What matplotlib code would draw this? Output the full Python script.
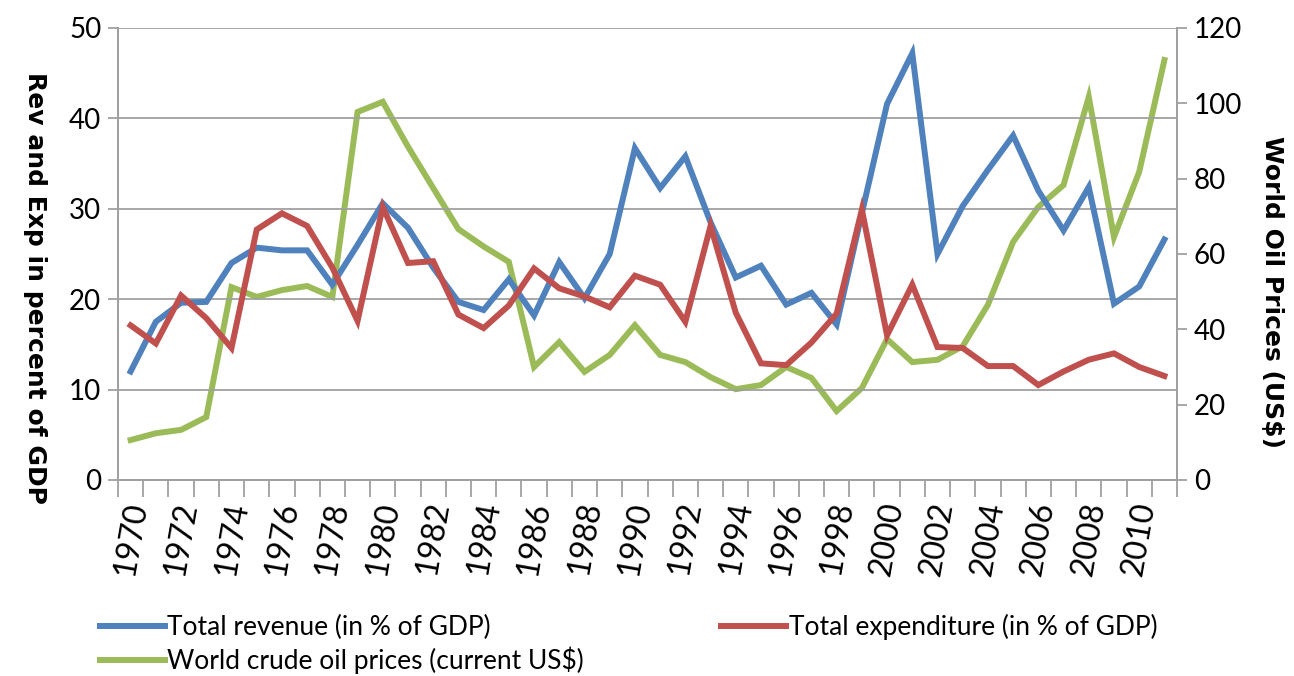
"""Revenue, expenditure and world oil prices, 1970-2011."""

import matplotlib
matplotlib.use("Agg")
import matplotlib.pyplot as plt
import numpy as np

years = list(range(1970, 2012))

revenue = [12.0, 17.5, 19.6, 19.7, 24.0, 25.7, 25.4, 25.4, 21.6, 26.0,
           30.6, 27.9, 23.5, 19.7, 18.8, 22.2, 18.2, 24.1, 20.1, 25.0,
           36.7, 32.3, 35.8, 28.5, 22.4, 23.7, 19.4, 20.7, 17.2, 29.5,
           41.6, 47.2, 25.0, 30.3, 34.3, 38.1, 32.0, 27.6, 32.4, 19.5,
           21.4, 26.6]

expenditure = [17.1, 15.1, 20.4, 17.9, 14.6, 27.7, 29.5, 28.1, 23.5, 17.6,
               30.2, 24.0, 24.2, 18.3, 16.8, 19.3, 23.4, 21.2, 20.3, 19.1,
               22.6, 21.6, 17.5, 28.1, 18.5, 12.9, 12.7, 15.2, 18.4, 29.9,
               16.0, 21.6, 14.7, 14.6, 12.6, 12.6, 10.5, 12.0, 13.3, 14.0,
               12.5, 11.5]

oil_price = [10.6, 12.4, 13.3, 16.7, 51.2, 48.6, 50.4, 51.5, 48.6, 97.7,
             100.4, 88.5, 77.5, 66.6, 62.0, 57.9, 30.0, 36.6, 28.7, 33.2,
             41.1, 33.2, 31.3, 27.3, 24.1, 25.2, 30.0, 27.1, 18.3, 24.4,
             37.4, 31.3, 31.9, 35.5, 46.5, 63.2, 72.5, 78.3, 101.7, 64.5,
             81.8, 111.5]

left_ticks = [0, 10, 20, 30, 40, 50]
right_ticks = [0, 20, 40, 60, 80, 100, 120]

BLUE = "#4F81BD"
RED = "#C0504D"
GREEN = "#9BBB59"
GRID = "#A0A0A0"
NARROW = ["Lato", "DejaVu Sans"]

fig = plt.figure(figsize=(12.94, 6.76), dpi=100)
ax = fig.add_axes([0.0912, 0.290, 0.8184, 0.6686])
ax2 = ax.twinx()

x = np.arange(len(years))
lw = 4.3
l_rev, = ax.plot(x, revenue, color=BLUE, lw=lw, solid_joinstyle="miter")
l_exp, = ax.plot(x, expenditure, color=RED, lw=lw, solid_joinstyle="miter")
l_oil, = ax2.plot(x, oil_price, color=GREEN, lw=lw, solid_joinstyle="miter")
ax2.set_zorder(ax.get_zorder() - 1)
ax.patch.set_visible(False)

ax.set_xlim(-0.5, len(years) - 0.5)
ax.set_ylim(0, 50)
ax2.set_ylim(0, 120)

ax.set_yticks(left_ticks)
ax2.set_yticks(right_ticks)
ax.set_yticklabels([str(t) for t in left_ticks], family=NARROW, fontsize=20)
ax2.set_yticklabels([str(t) for t in right_ticks], family=NARROW, fontsize=20)
ax.yaxis.grid(True, color=GRID, lw=1.3)
ax.set_axisbelow(True)

# category axis: tick marks between years, labels every 2 years
ax.set_xticks(np.arange(-0.5, len(years), 1.0))
ax.set_xticklabels([])
ax.set_xticks(x[::2], minor=True)
ax.set_xticklabels([str(y) for y in years[::2]], minor=True,
                   family=NARROW, fontsize=23, rotation=80,
                   ha="center", va="top")
ax.tick_params(axis="x", which="major", length=12, color=GRID, width=1.3)
ax.tick_params(axis="x", which="minor", length=0, pad=14)
ax.tick_params(axis="y", length=7, color=GRID, width=1.3, pad=5)
ax2.tick_params(axis="y", length=7, color=GRID, width=1.3, pad=5)

for a in (ax, ax2):
    for side in ("left", "right", "bottom"):
        a.spines[side].set_color(GRID)
        a.spines[side].set_linewidth(1.3)
    a.spines["top"].set_visible(False)

ax.set_ylabel("Rev and Exp in percent of GDP", fontsize=18, fontweight="bold",
              rotation=270, va="center", labelpad=0)
ax.yaxis.set_label_coords(-0.078, 0.425)
ax2.set_ylabel("World Oil Prices (US$)", fontsize=18, fontweight="bold",
               rotation=270, va="center")
ax2.yaxis.set_label_coords(1.09, 0.415)

fig.legend([l_rev, l_oil, l_exp],
           ["Total revenue (in % of GDP)",
            "World crude oil prices (current US$)",
            "Total expenditure (in % of GDP)"],
           ncol=2, loc="upper left", bbox_to_anchor=(0.0773, 0.092),
           frameon=False, borderpad=0, borderaxespad=0,
           handlelength=2.45, handletextpad=0.1,
           columnspacing=5.2, labelspacing=0.25,
           prop={"family": NARROW, "size": 19})

fig.savefig("out.png", dpi=100)
